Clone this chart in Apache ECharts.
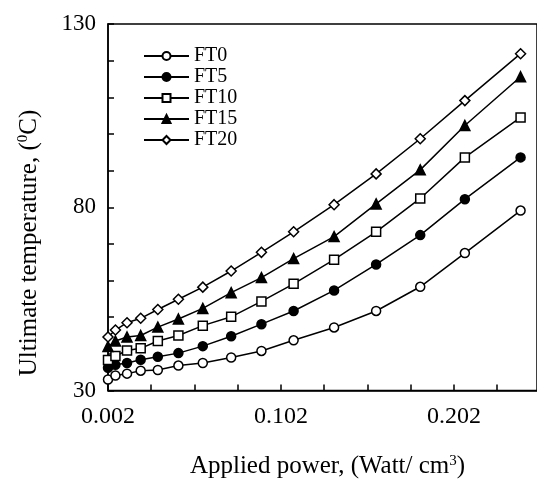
<!DOCTYPE html>
<html>
<head>
<meta charset="utf-8">
<script src="https://cdn.jsdelivr.net/npm/echarts@6/dist/echarts.min.js"></script>
<style>html,body{margin:0;padding:0;background:#fff;}#c{width:537px;height:484px;}</style>
</head>
<body>
<div id="c"></div>
<script>
const powers = [0.002, 0.0063, 0.013, 0.0209, 0.0308, 0.0427, 0.0568, 0.0732, 0.0907, 0.1093, 0.1327, 0.157, 0.1825, 0.2083, 0.2405];
const ft0  = [33.0, 34.1, 34.6, 35.4, 35.6, 36.8, 37.5, 39.0, 40.8, 43.7, 47.2, 51.7, 58.3, 67.5, 79.1];
const ft5  = [36.2, 37.0, 37.5, 38.4, 39.2, 40.2, 42.1, 44.8, 48.1, 51.7, 57.3, 64.4, 72.4, 82.2, 93.6];
const ft10 = [38.3, 39.4, 40.9, 41.5, 43.5, 45.0, 47.7, 50.1, 54.3, 59.1, 65.7, 73.3, 82.4, 93.6, 104.5];
const ft15 = [42.0, 43.5, 44.6, 45.0, 47.3, 49.5, 52.4, 56.7, 60.8, 66.0, 72.0, 80.9, 90.2, 102.3, 115.6];
const ft20 = [44.6, 46.5, 48.5, 49.7, 52.1, 54.9, 58.2, 62.6, 67.7, 73.3, 80.7, 89.1, 98.7, 109.1, 121.9];
const seriesNames = ['FT0', 'FT5', 'FT10', 'FT15', 'FT20'];
const xTickLabels = ['0.002', '0.102', '0.202'];
const yTickLabels = [30, 80, 130];

const FONT = '"Liberation Serif", "Times New Roman", serif';
const styles = [
  {symbol: 'circle', size: 9, fill: '#fff'},
  {symbol: 'circle', size: 9, fill: '#000'},
  {symbol: 'rect', size: 9, fill: '#fff'},
  {symbol: 'triangle', size: 10, fill: '#000'},
  {symbol: 'diamond', size: 10, fill: '#fff'}
];
const values = [ft0, ft5, ft10, ft15, ft20];

const series = values.map((vals, i) => ({
  name: seriesNames[i],
  type: 'line',
  data: powers.map((p, j) => [p, vals[j]]),
  symbol: styles[i].symbol,
  symbolSize: styles[i].size,
  showAllSymbol: true,
  lineStyle: {color: '#000', width: 1.5},
  itemStyle: {color: styles[i].fill, borderColor: '#000', borderWidth: 1.5},
  z: 2 + i
}));

const chart = echarts.init(document.getElementById('c'), null, {renderer: 'canvas'});
chart.setOption({
  animation: false,
  backgroundColor: '#fff',
  grid: {left: 108, top: 24, bottom: 87, right: -10, show: true, borderColor: '#000', borderWidth: 1.5, containLabel: false},
  legend: {
    orient: 'vertical', left: 138, top: 41, itemGap: 1, itemWidth: 45, itemHeight: 10,
    data: seriesNames,
    textStyle: {fontFamily: FONT, fontSize: 20, color: '#000'}
  },
  xAxis: {
    type: 'value', min: 0.002, max: 0.25, interval: 0.025,
    axisLine: {lineStyle: {color: '#000', width: 1.5}},
    axisTick: {inside: true, length: 6, lineStyle: {color: '#000', width: 1.5}},
    splitLine: {show: false},
    axisLabel: {
      fontFamily: FONT, fontSize: 24, color: '#000', margin: 14, showMaxLabel: false,
      formatter: function (v) {
        const k = Math.round((v - 0.002) / 0.025);
        if (Math.abs(v - (0.002 + k * 0.025)) > 1e-6) return '';
        const s = (0.002 + k * 0.025).toFixed(3);
        return xTickLabels.indexOf(s) >= 0 ? s : '';
      }
    },
    name: 'Applied power, (Watt/ cm{sup|3})',
    nameLocation: 'middle', nameGap: 63,
    nameTextStyle: {fontFamily: FONT, fontSize: 25, color: '#000', padding: [0, 0, 0, 10],
      rich: {sup: {fontFamily: FONT, fontSize: 15, color: '#000', padding: [0, 0, 11, 0]}}}
  },
  yAxis: {
    type: 'value', min: 30, max: 130, interval: 10,
    axisLine: {show: true, lineStyle: {color: '#000', width: 1.5}},
    axisTick: {show: true, inside: true, length: 6, lineStyle: {color: '#000', width: 1.5}},
    splitLine: {show: false},
    axisLabel: {
      fontFamily: FONT, fontSize: 23, color: '#000', margin: 12,
      formatter: function (v) { return yTickLabels.indexOf(Math.round(v)) >= 0 ? String(Math.round(v)) : ''; }
    }
  },
  graphic: [{
    type: 'text', x: 29, y: 243, rotation: Math.PI / 2,
    style: {
      text: 'Ultimate temperature, ({sup|0}C)',
      font: '25px ' + FONT, fill: '#000', align: 'center', verticalAlign: 'middle',
      rich: {sup: {fontFamily: FONT, fontSize: 15, fill: '#000', padding: [0, 0, 11, 0]}}
    }
  }],
  series: series
});
</script>
</body>
</html>
